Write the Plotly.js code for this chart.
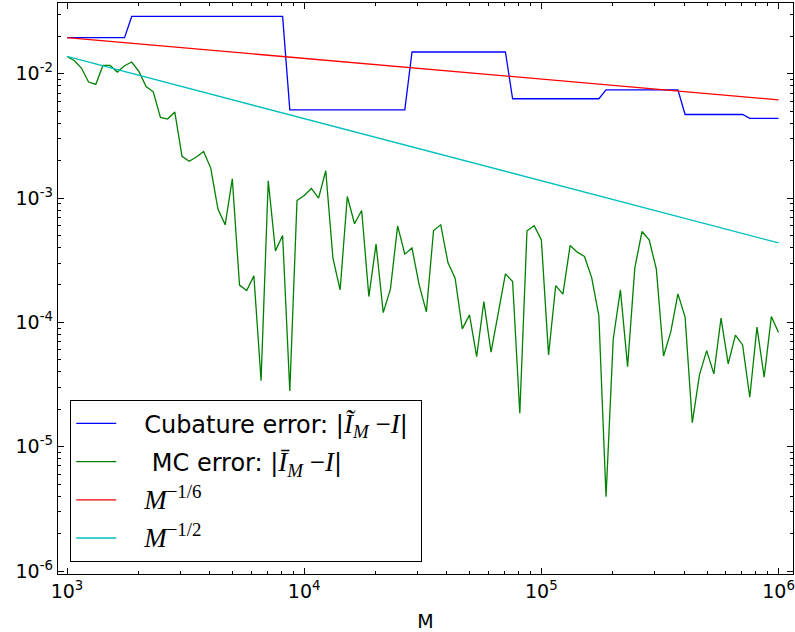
<!DOCTYPE html>
<html><head><meta charset="utf-8">
<script src="https://cdn.plot.ly/plotly-3.0.1.min.js"></script>
<style>html,body{margin:0;padding:0;background:#fff}#chart{width:795px;height:632px}</style>
</head><body><div id="chart"></div><script>
// Sample sizes M (100 log-spaced values, 10^3 .. 10^6)
const M = [1000, 1072, 1150, 1233, 1322, 1417, 1520, 1630, 1748, 1874,
  2009, 2154, 2310, 2477, 2656, 2848, 3054, 3275, 3511, 3765,
  4037, 4329, 4642, 4977, 5337, 5722, 6136, 6579, 7055, 7565,
  8111, 8697, 9326, 10000, 10723, 11498, 12328, 13219, 14175, 15199,
  16298, 17475, 18738, 20092, 21544, 23101, 24771, 26561, 28480, 30539,
  32745, 35112, 37649, 40370, 43288, 46416, 49770, 53367, 57224, 61359,
  65793, 70548, 75646, 81113, 86975, 93260, 100000, 107227, 114976, 123285,
  132194, 141747, 151991, 162975, 174753, 187382, 200923, 215443, 231013, 247708,
  265609, 284804, 305386, 327455, 351119, 376494, 403702, 432876, 464159, 497702,
  533670, 572237, 613591, 657933, 705480, 756463, 811131, 869749, 932603, 1000000];

const cubatureError = [0.0195, 0.0195, 0.0195, 0.0195, 0.0195, 0.0195, 0.0195, 0.0195, 0.0195, 0.0289,
  0.0289, 0.0289, 0.0289, 0.0289, 0.0289, 0.0289, 0.0289, 0.0289, 0.0289, 0.0289,
  0.0289, 0.0289, 0.0289, 0.0289, 0.0289, 0.0289, 0.0289, 0.0289, 0.0289, 0.0289,
  0.0289, 0.00513, 0.00513, 0.00513, 0.00513, 0.00513, 0.00513, 0.00513, 0.00513, 0.00513,
  0.00513, 0.00513, 0.00513, 0.00513, 0.00513, 0.00513, 0.00513, 0.00513, 0.01496, 0.01496,
  0.01496, 0.01496, 0.01496, 0.01496, 0.01496, 0.01496, 0.01496, 0.01496, 0.01496, 0.01496,
  0.01496, 0.01496, 0.00629, 0.00629, 0.00629, 0.00629, 0.00629, 0.00629, 0.00629, 0.00629,
  0.00629, 0.00629, 0.00629, 0.00629, 0.00629, 0.00743, 0.00743, 0.00743, 0.00743, 0.00743,
  0.00743, 0.00743, 0.00743, 0.00743, 0.00743, 0.00743, 0.0047, 0.0047, 0.0047, 0.0047,
  0.0047, 0.0047, 0.0047, 0.0047, 0.0047, 0.00437, 0.00437, 0.00437, 0.00437, 0.00437];

const mcError = [0.01377, 0.01279, 0.01111, 0.00858, 0.00820, 0.01166, 0.01166, 0.01032, 0.01160, 0.01242,
  0.01043, 0.00790, 0.00716, 0.00445, 0.00432, 0.00492, 0.002168, 0.001976, 0.002136, 0.002369,
  0.001742, 0.000815, 0.000609, 0.001429, 0.0001993, 0.0001803, 0.0002367, 0.0000340, 0.001377, 0.000376,
  0.000500, 0.0000281, 0.000956, 0.001048, 0.001194, 0.000999, 0.001657, 0.000329, 0.0001827, 0.001029,
  0.000621, 0.000794, 0.0001613, 0.000426, 0.0001199, 0.0001850, 0.000598, 0.000354, 0.000396, 0.0002004,
  0.0001215, 0.000548, 0.000609, 0.000303, 0.0002268, 0.0000887, 0.0001149, 0.0000530, 0.0001471, 0.0000576,
  0.0001186, 0.0002457, 0.0002130, 0.0000186, 0.000545, 0.000598, 0.000461, 0.0000548, 0.0001978, 0.0001687,
  0.000415, 0.000367, 0.000339, 0.0002294, 0.0001128, 0.00000396, 0.0000732, 0.0001827, 0.0000441, 0.000273,
  0.000538, 0.000461, 0.000268, 0.0000537, 0.0000834, 0.0001696, 0.0001101, 0.0000156, 0.0000378, 0.0000593,
  0.0000385, 0.0001081, 0.0000463, 0.0000789, 0.0000659, 0.0000250, 0.0000915, 0.0000362, 0.0001113, 0.0000828];

// Reference rate lines (straight in log-log), endpoints
const rateX = [1000, 1000000];
const rateSixth = [0.0195, 0.00617];
const rateHalf = [0.01377, 0.000436];

const xTickVals = [1e3, 1e4, 1e5, 1e6];
const xTickText = ['10<sup>3</sup>', '10<sup>4</sup>', '10<sup>5</sup>', '10<sup>6</sup>'];
const yTickVals = [1e-6, 1e-5, 1e-4, 1e-3, 1e-2];
const yTickText = ['10<sup>-6</sup>', '10<sup>-5</sup>', '10<sup>-4</sup>', '10<sup>-3</sup>', '10<sup>-2</sup>'];

const pad = '\u00a0\u00a0\u00a0';
const mathOpen = '<span style="font-family:Liberation Serif;font-size:27px">';
const legendNames = [
  pad + 'Cubature error: |' + mathOpen + '<i>Ĩ</i><sub><i>M</i></sub> −<i>I</i></span>|\u00a0',
  pad + '\u00a0MC error: |' + mathOpen + '<i>Ī</i><sub><i>M</i></sub> −<i>I</i></span>|',
  pad + mathOpen + '<i>M</i><sup>−1/6</sup></span>',
  pad + mathOpen + '<i>M</i><sup>−1/2</sup></span>'
];

function minorTicks(lo, hi) {
  const v = [];
  for (let e = lo; e <= hi; e++) for (let d = 2; d <= 9; d++) v.push(d * Math.pow(10, e));
  return v;
}

const lw = 1.3;
const traces = [
  {x: M, y: cubatureError, mode: 'lines', name: legendNames[0], line: {color: '#0000ff', width: lw}, legendgroup: 'a'},
  {x: M, y: mcError, mode: 'lines', name: legendNames[1], line: {color: '#008000', width: lw}, legendgroup: 'b'},
  {x: rateX, y: rateSixth, mode: 'lines', name: legendNames[2], line: {color: '#ff0000', width: lw}, legendgroup: 'c'},
  {x: rateX, y: rateHalf, mode: 'lines', name: legendNames[3], line: {color: '#00bfbf', width: lw}, legendgroup: 'd'}
];

function axis(extra) {
  return Object.assign({
    type: 'log', showline: true, linecolor: '#000', linewidth: 1.3, mirror: 'allticks',
    ticks: 'inside', ticklen: 6, tickwidth: 1, tickcolor: '#000',
    showgrid: false, zeroline: false, tickmode: 'array',
    tickfont: {family: 'DejaVu Sans', size: 19, color: '#000'}
  }, extra);
}

const layout = {
  width: 795, height: 632,
  margin: {l: 58, r: 2, t: 3, b: 58},
  paper_bgcolor: '#fff', plot_bgcolor: '#fff',
  showlegend: true,
  xaxis: axis({
    range: [2.962, 6.061], tickvals: xTickVals, ticktext: xTickText,
    minor: {tickmode: 'array', tickvals: minorTicks(2, 6), ticks: 'inside', ticklen: 3, tickwidth: 1, tickcolor: '#000', showgrid: false},
    title: {text: 'M', font: {family: 'DejaVu Sans', size: 19, color: '#000'}, standoff: 16}
  }),
  yaxis: axis({
    range: [-6.024, -1.431], tickvals: yTickVals, ticktext: yTickText,
    minor: {tickmode: 'array', tickvals: minorTicks(-7, -2), ticks: 'inside', ticklen: 3, tickwidth: 1, tickcolor: '#000', showgrid: false}
  }),
  legend: {
    x: 0.0163, y: 0.021, xanchor: 'left', yanchor: 'bottom',
    bgcolor: '#fff', bordercolor: '#000', borderwidth: 1.3,
    font: {family: 'DejaVu Sans', size: 24, color: '#000'},
    tracegroupgap: 4, traceorder: 'grouped', itemwidth: 40
  }
};

Plotly.newPlot('chart', traces, layout, {displayModeBar: false, staticPlot: true});
</script></body></html>
